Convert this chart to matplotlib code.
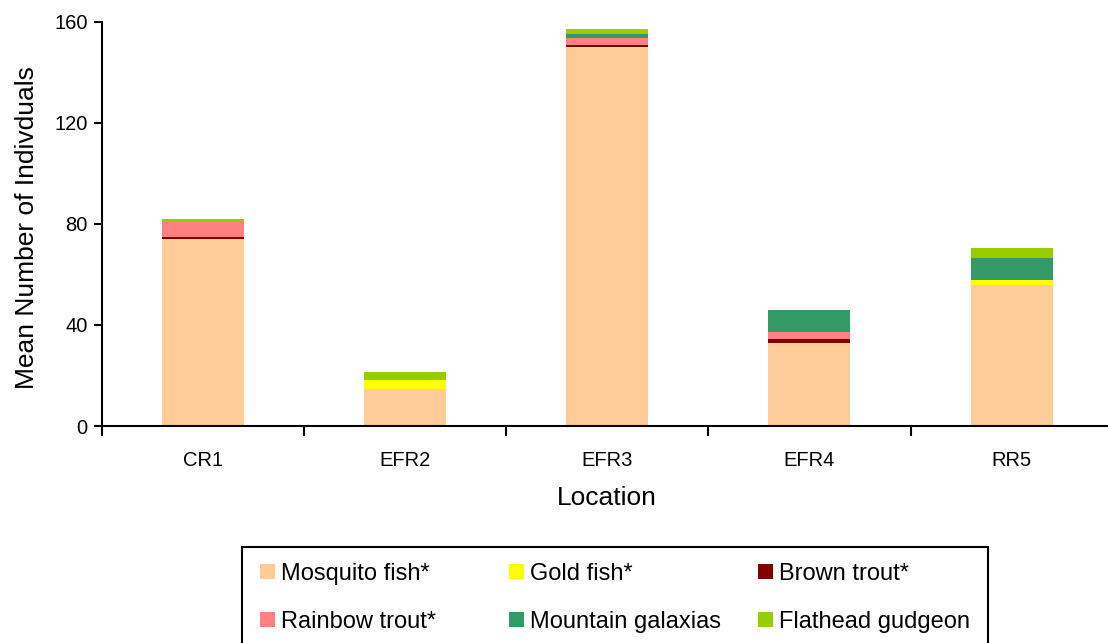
import numpy as np
import matplotlib
matplotlib.use("Agg")
from matplotlib import pyplot as plt
from matplotlib.patches import Rectangle, Patch

plt.rcParams['font.family'] = ['Liberation Sans', 'DejaVu Sans']

locations = ['CR1', 'EFR2', 'EFR3', 'EFR4', 'RR5']
species = ['Mosquito fish*', 'Gold fish*', 'Brown trout*',
           'Rainbow trout*', 'Mountain galaxias', 'Flathead gudgeon']
colors = ['#FFCC99', '#FFFF00', '#800000', '#FF8080', '#339966', '#99CC00']

mosquito = [74.0, 14.7, 149.6, 32.9, 55.8]
gold = [0.0, 3.5, 0.5, 0.0, 2.0]
brown = [0.8, 0.0, 0.8, 1.6, 0.0]
rainbow = [6.2, 0.0, 2.8, 2.8, 0.0]
galaxias = [0.0, 0.0, 1.5, 8.7, 8.7]
gudgeon = [0.9, 3.3, 2.0, 0.0, 4.0]

yticks = [0, 40, 80, 120, 160]

W, H = 1108, 643
fig = plt.figure(figsize=(W / 100, H / 100), dpi=100)
# axes box in pixels (right side runs past the figure edge like the original)
ax = fig.add_axes([101.7 / W, (H - 426) / H, 1011 / W, 404 / H])

x = np.arange(len(locations))
bottom = np.zeros(len(locations))
series = [mosquito, gold, brown, rainbow, galaxias, gudgeon]
for vals, c, lab in zip(series, colors, species):
    ax.bar(x, vals, width=0.405, bottom=bottom, color=c, label=lab, linewidth=0)
    bottom += np.array(vals)

ax.set_xlim(-0.5, len(locations) - 0.5)
ax.set_ylim(0, 160)
ax.set_yticks(yticks)
ax.set_xticks(x)
ax.set_xticklabels(locations)
ax.set_xticks(np.arange(-0.5, len(locations)), minor=True)

for s in ['top', 'right']:
    ax.spines[s].set_visible(False)
for s in ['left', 'bottom']:
    ax.spines[s].set_linewidth(1.5)
    ax.spines[s].set_color('black')

ax.tick_params(axis='y', direction='out', length=6, width=1.5, labelsize=14.5, pad=4)
ax.tick_params(axis='x', which='major', length=0, labelsize=14.5, pad=18)
ax.tick_params(axis='x', which='minor', direction='out', length=7, width=1.5)

ax.set_xlabel('Location', fontsize=19)
ax.set_ylabel('Mean Number of Indivduals', fontsize=19)
ax.xaxis.set_label_coords(0.5, -(486 - 426) / 404)
ax.yaxis.set_label_coords(-(101.7 - 39) / 1011, 0.49)

# legend frame
fig.patches.append(Rectangle((241.5 / W, -0.02), (988 - 241.5) / W, (H - 547.3) / H + 0.02,
                             transform=fig.transFigure, fill=False,
                             edgecolor='black', linewidth=1.5))

col_x = [260, 509, 758]
rows_mid = (571.7 + 619) / 2 + 2.5
for c in range(3):
    idx = [c, c + 3]
    handles = [Patch(facecolor=colors[i], edgecolor='none') for i in idx]
    labels = [species[i] for i in idx]
    leg = fig.legend(handles, labels, loc='center left',
                     bbox_to_anchor=(col_x[c] / W, (H - rows_mid) / H),
                     frameon=False, fontsize=17, borderpad=0, borderaxespad=0,
                     handlelength=0.62, handleheight=0.62, handletextpad=0.25,
                     labelspacing=1.08)

fig.savefig('out.png', dpi=100)
